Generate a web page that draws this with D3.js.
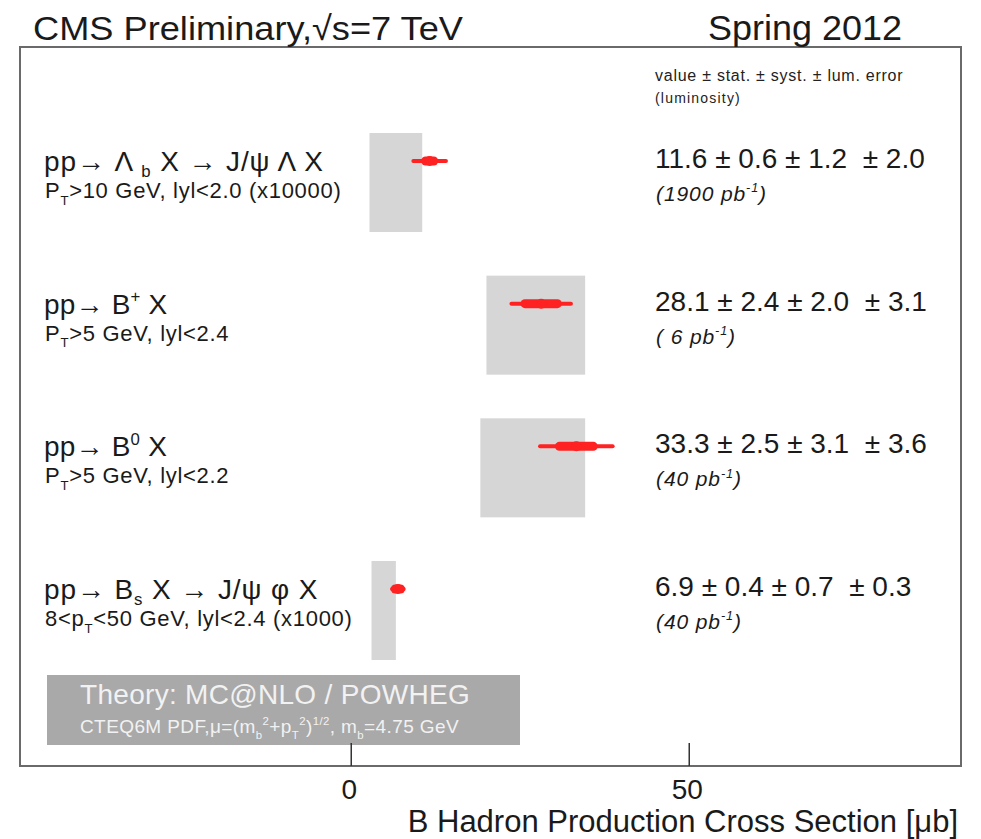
<!DOCTYPE html>
<html>
<head>
<meta charset="utf-8">
<script src="https://cdn.jsdelivr.net/npm/d3@7"></script>
<style>
  html, body { margin: 0; padding: 0; background: #fff; }
  svg { display: block; font-family: "Liberation Sans", Arial, Helvetica, sans-serif; }
</style>
</head>
<body>
<svg id="chart" width="981" height="839"></svg>
<script>
// Measured cross sections (µb) with stat, syst and luminosity uncertainties
const processes = ["Lb", "Bplus", "B0", "Bs"];
const values    = [11.6, 28.1, 33.3, 6.9];
const statErr   = [0.6, 2.4, 2.5, 0.4];
const systErr   = [1.2, 2.0, 3.1, 0.7];
const lumErr    = [2.0, 3.1, 3.6, 0.3];
const lumiText  = ["1900", " 6", "40", "40"];
// Theory band (MC@NLO / POWHEG) for each process
const theoryLo  = [2.7, 20.0, 19.1, 3.0];
const theoryHi  = [10.5, 34.6, 34.6, 6.6];
const xTicks    = [0, 50];

const svg = d3.select("#chart");
const frame = { left: 20, right: 961, top: 47, bottom: 766 };

const x = d3.scaleLinear().domain([-49, 90.2]).range([frame.left, frame.right]);
const y = d3.scalePoint().domain(processes).range([161, 589]);

const red = "#ff2222";
const ink = "#1a1a1a";
const fmt = d3.format(".1f");

// frame
svg.append("rect")
  .attr("x", frame.left).attr("y", frame.top)
  .attr("width", frame.right - frame.left).attr("height", frame.bottom - frame.top)
  .attr("fill", "none").attr("stroke", "#6a6a6a").attr("stroke-width", 2);

// header texts
svg.append("text").attr("x", 33).attr("y", 40)
  .attr("font-size", 34).attr("fill", ink)
  .attr("textLength", 430).attr("lengthAdjust", "spacingAndGlyphs")
  .text("CMS Preliminary,\u221As=7 TeV");
svg.append("text").attr("x", 902).attr("y", 40).attr("text-anchor", "end")
  .attr("font-size", 35).attr("fill", ink)
  .attr("textLength", 194).attr("lengthAdjust", "spacingAndGlyphs")
  .text("Spring 2012");

svg.append("text").attr("x", 655).attr("y", 81)
  .attr("font-size", 16).attr("fill", "#222").attr("letter-spacing", 0.75)
  .text("value \u00B1 stat. \u00B1 syst. \u00B1 lum. error");
svg.append("text").attr("x", 655).attr("y", 103)
  .attr("font-size", 14).attr("fill", "#222").attr("letter-spacing", 1.2)
  .text("(luminosity)");

// theory bands
svg.append("g").selectAll("rect")
  .data(processes)
  .join("rect")
  .attr("x", (d, i) => x(theoryLo[i]))
  .attr("width", (d, i) => x(theoryHi[i]) - x(theoryLo[i]))
  .attr("y", d => y(d) - 28)
  .attr("height", 99)
  .attr("fill", "#d6d6d6");

// error bars: thin = total, thick = stat
const tot = processes.map((d, i) => Math.sqrt(statErr[i] ** 2 + systErr[i] ** 2 + lumErr[i] ** 2));
const marks = svg.append("g");
marks.selectAll("line.tot")
  .data(processes).join("line").attr("class", "tot")
  .attr("x1", (d, i) => x(values[i] - tot[i]))
  .attr("x2", (d, i) => x(values[i] + tot[i]))
  .attr("y1", d => y(d)).attr("y2", d => y(d))
  .attr("stroke", red).attr("stroke-width", 4).attr("stroke-linecap", "round");
marks.selectAll("line.stat")
  .data(processes).join("line").attr("class", "stat")
  .attr("x1", (d, i) => x(values[i] - statErr[i]))
  .attr("x2", (d, i) => x(values[i] + statErr[i]))
  .attr("y1", d => y(d)).attr("y2", d => y(d))
  .attr("stroke", red).attr("stroke-width", 9).attr("stroke-linecap", "round");
marks.selectAll("circle")
  .data(processes).join("circle")
  .attr("cx", (d, i) => x(values[i]))
  .attr("cy", d => y(d))
  .attr("r", 5)
  .attr("fill", red);

// text with sub/superscripts: parts are strings or {sub} / {sup}
function richText(g, xPos, yPos, size, parts, opts = {}) {
  const t = g.append("text").attr("x", xPos).attr("y", yPos)
    .attr("font-size", size).attr("fill", opts.fill || ink);
  if (opts.italic) t.attr("font-style", "italic");
  if (opts.spacing) t.attr("letter-spacing", opts.spacing);
  const subShift = opts.subShift != null ? opts.subShift : 0.3;
  let shift = 0;
  parts.forEach(p => {
    if (typeof p === "string") {
      if (p === "") return;
      t.append("tspan").attr("dy", -shift).text(p);
      shift = 0;
    } else {
      const target = p.sub ? size * subShift : -size * 0.42;
      t.append("tspan").attr("font-size", size * 0.6).attr("dy", target - shift).text(p.sub || p.sup);
      shift = target;
    }
  });
  return t;
}

const labelLine1 = [
  ["pp\u2192 \u039B ", { sub: "b" }, " X \u2192 J/\u03C8 \u039B X"],
  ["pp\u2192 B", { sup: "+" }, " X"],
  ["pp\u2192 B", { sup: "0" }, " X"],
  ["pp\u2192 B", { sub: "s" }, " X \u2192 J/\u03C8 \u03C6 X"]
];
const labelLine2 = [
  ["P", { sub: "T" }, ">10 GeV, lyl<2.0 (x10000)"],
  ["P", { sub: "T" }, ">5 GeV, lyl<2.4"],
  ["P", { sub: "T" }, ">5 GeV, lyl<2.2"],
  ["8<p", { sub: "T" }, "<50 GeV, lyl<2.4 (x1000)"]
];
const labels = svg.append("g");
processes.forEach((d, i) => {
  const yy = y(d);
  richText(labels, 44, yy + 10, 28, labelLine1[i], { spacing: i === 0 || i === 3 ? 0.9 : 0.2, subShift: 0.2 });
  richText(labels, 45, yy + 37, 22, labelLine2[i], { spacing: 0.7 });
  // value summary
  labels.append("text").attr("x", 655).attr("y", yy + 7)
    .attr("font-size", 28).attr("fill", ink)
    .attr("xml:space", "preserve")
    .text(`${fmt(values[i])} \u00B1 ${fmt(statErr[i])} \u00B1 ${fmt(systErr[i])}  \u00B1 ${fmt(lumErr[i])}`);
  richText(labels, 656, yy + 40, 21, ["(" + lumiText[i] + " pb", { sup: "-1" }, ")"], { italic: true, spacing: 0.9 });
});

// theory legend box
const tb = svg.append("g");
tb.append("rect").attr("x", 47).attr("y", 675).attr("width", 473).attr("height", 70)
  .attr("fill", "#a9a9a9");
tb.append("text").attr("x", 80).attr("y", 704).attr("font-size", 28).attr("fill", "#f2f2f2")
  .attr("letter-spacing", 0.3)
  .text("Theory: MC@NLO / POWHEG");
richText(tb, 80, 733, 19, ["CTEQ6M PDF,\u03BC=(m", { sub: "b" }, { sup: "2" }, "+p", { sub: "T" }, { sup: "2" }, ")", { sup: "1/2" }, ", m", { sub: "b" }, "=4.75 GeV"], { fill: "#f2f2f2", spacing: 0.4 });

// x axis
const axis = svg.append("g");
axis.selectAll("line")
  .data(xTicks).join("line")
  .attr("x1", d => x(d)).attr("x2", d => x(d))
  .attr("y1", frame.bottom).attr("y2", frame.bottom - 23)
  .attr("stroke", "#333").attr("stroke-width", 1.5);
axis.selectAll("text")
  .data(xTicks).join("text")
  .attr("x", d => x(d) - 2).attr("y", 799)
  .attr("text-anchor", "middle").attr("font-size", 28).attr("fill", ink)
  .text(d => d);
svg.append("text").attr("x", 958).attr("y", 832).attr("text-anchor", "end")
  .attr("font-size", 31).attr("fill", ink)
  .text("B Hadron Production Cross Section [\u03BCb]");
</script>
</body>
</html>
